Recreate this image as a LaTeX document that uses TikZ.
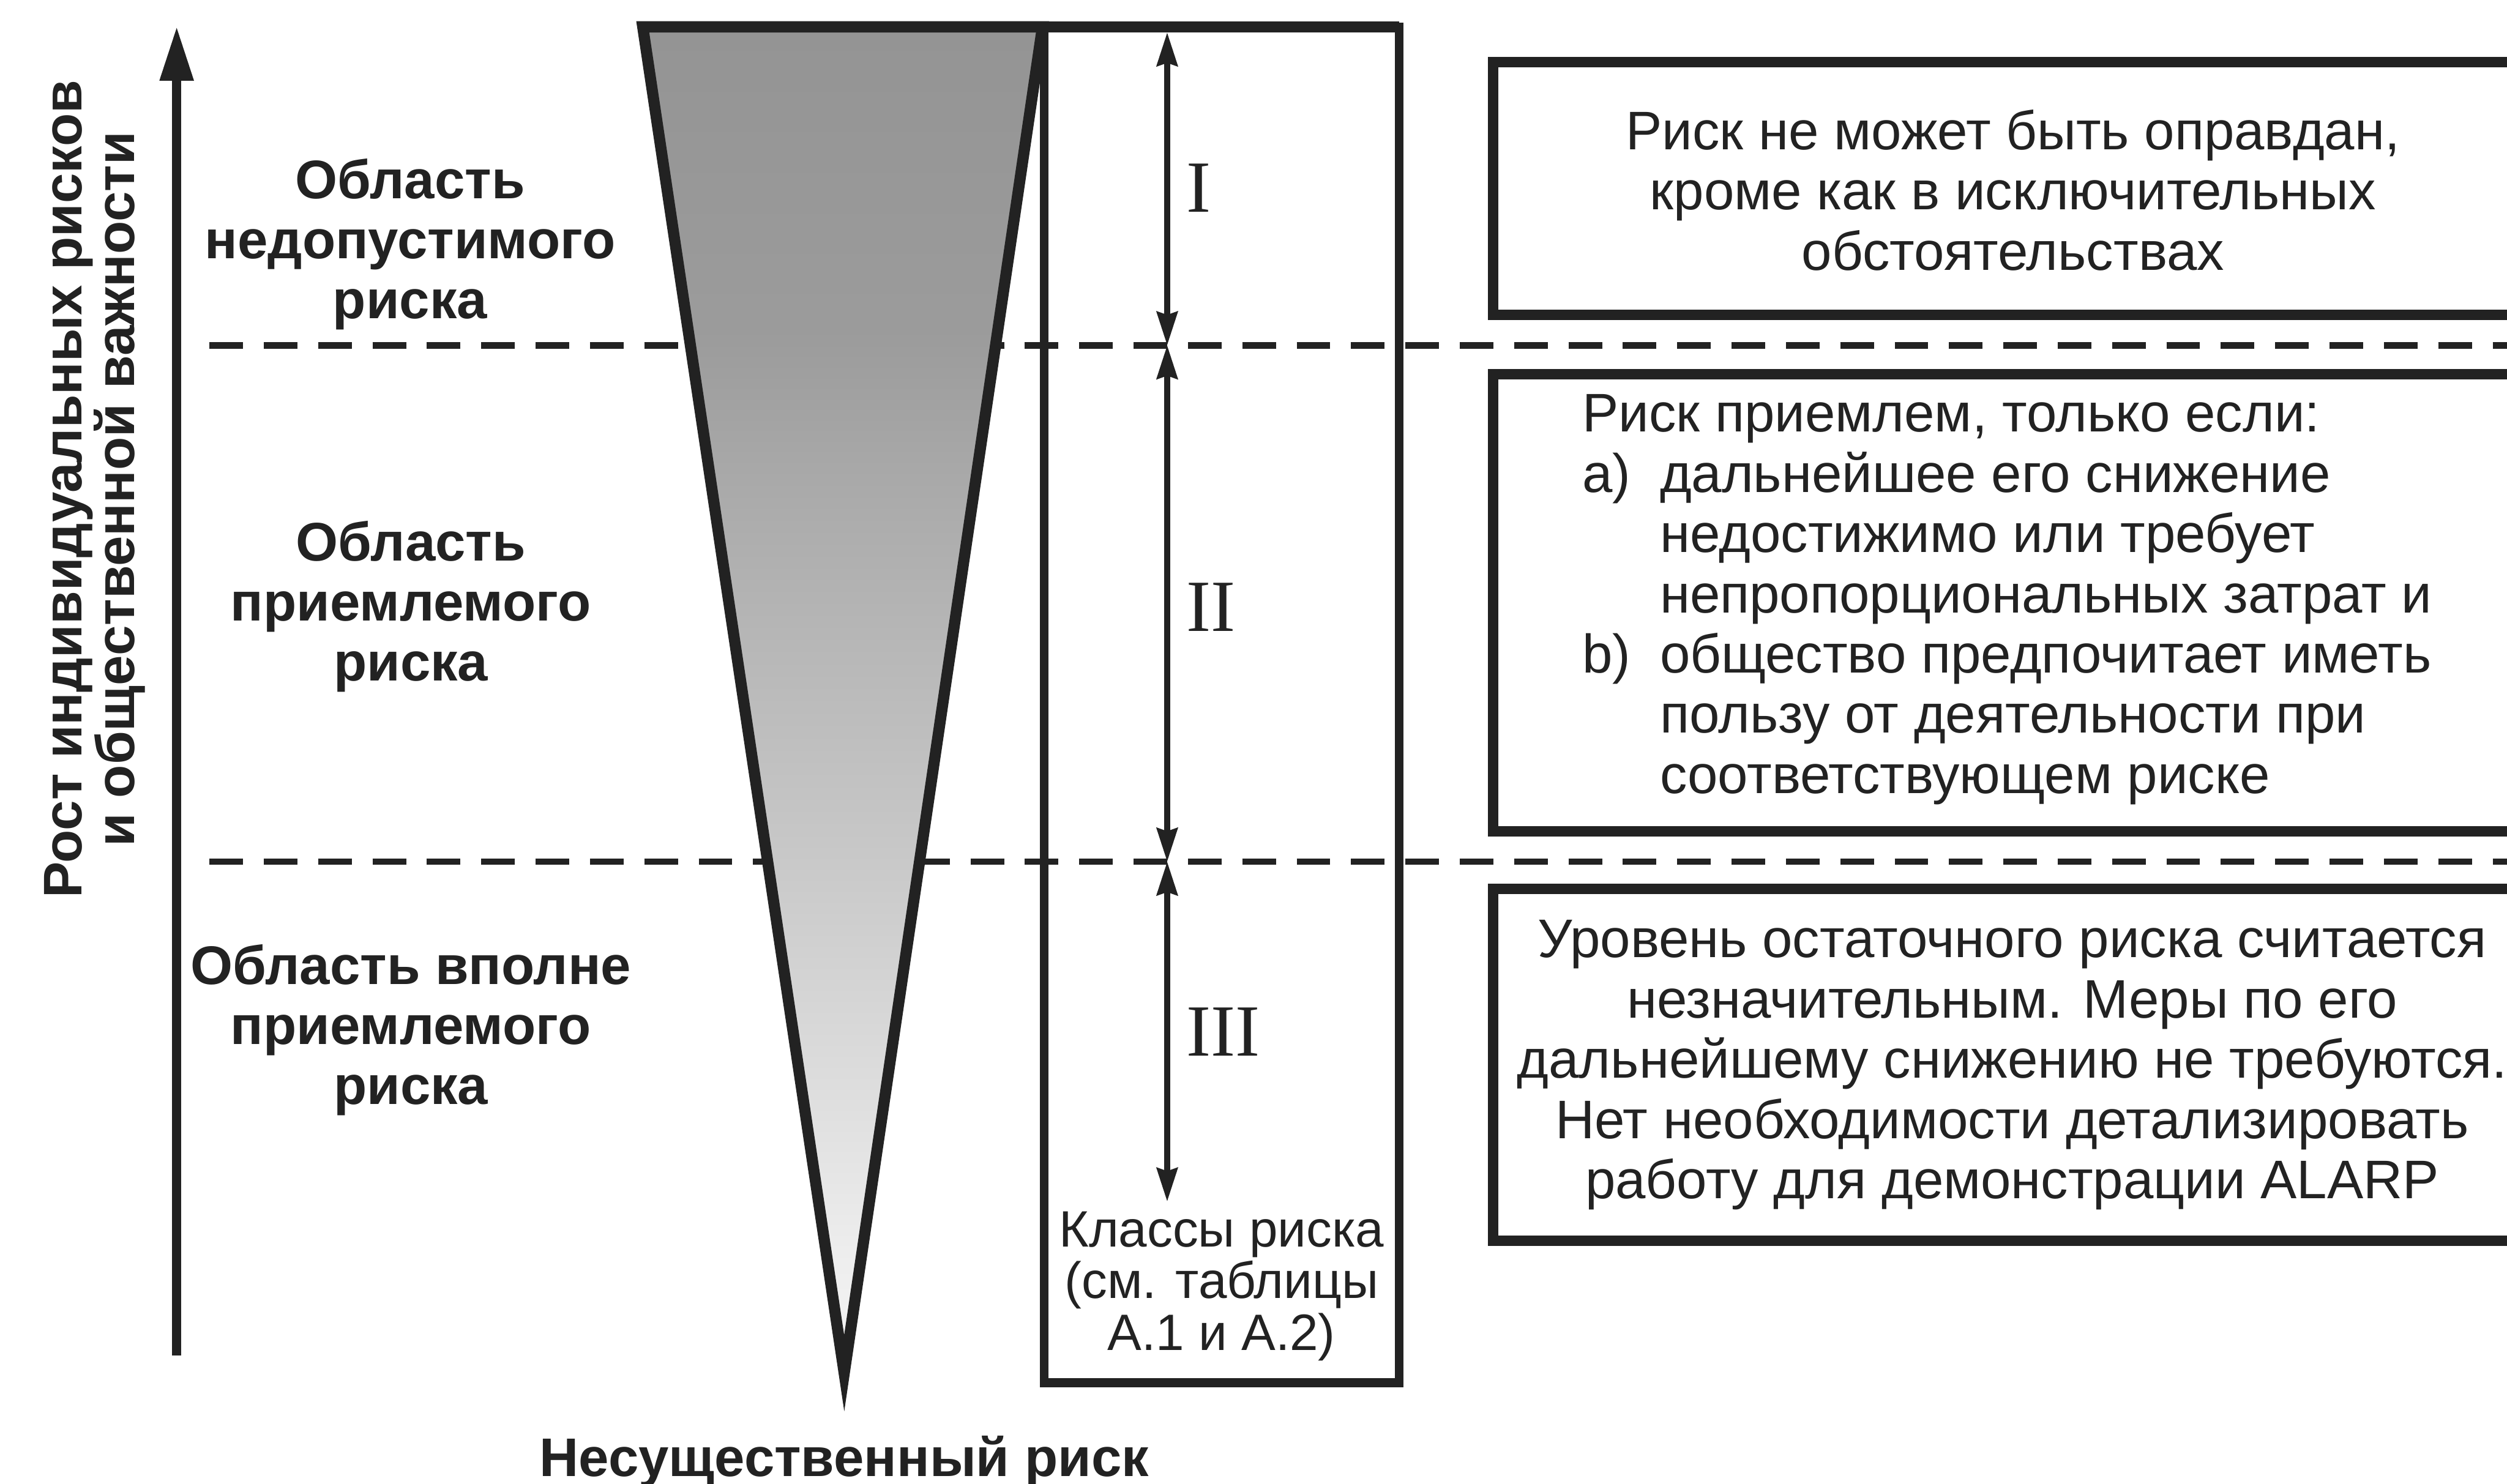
\documentclass[tikz,border=0pt]{standalone}
\usepackage{fontspec}
\setmainfont{Liberation Sans}
\newfontfamily\romanfont{Liberation Serif}
\usetikzlibrary{arrows.meta}
\definecolor{ink}{HTML}{222222}
% grey wedge: dark at the top, fading towards the tip
\pgfdeclareverticalshading{wedgeshade}{100bp}{%
  color(0bp)=(black!4); color(25bp)=(black!4); color(29.5bp)=(black!7);
  color(35.4bp)=(black!13); color(44.75bp)=(black!22); color(52.9bp)=(black!29);
  color(58.5bp)=(black!34); color(63.5bp)=(black!39); color(75bp)=(black!42);
  color(100bp)=(black!42)}
\newcommand\topstrut[1]{\rule{0pt}{#1}}
\newcommand\itm[1]{\makebox[48.5pt][l]{#1}}
\begin{document}
\begin{tikzpicture}[x=1pt,y=-1pt,line join=miter,miter limit=10,
  every node/.style={text=ink,inner sep=0pt},
  regionlabel/.style={font=\fontsize{34}{37.5}\selectfont\bfseries,align=center,anchor=north},
  boxtext/.style={font=\fontsize{34}{37.7}\selectfont,align=center,anchor=north},
  classtext/.style={font=\fontsize{32}{32.3}\selectfont,align=center,anchor=north},
  numeral/.style={font=\romanfont\fontsize{46}{46}\selectfont,anchor=base west},
  riskbox/.style={draw=ink,line width=6.5pt},
  zoneline/.style={draw=ink,line width=4.2pt,dash pattern=on 21pt off 13pt},
  dimarrow/.style={draw=ink,line width=3.5pt,
    {Stealth[length=21pt,width=13pt,inset=2pt]}-{Stealth[length=21pt,width=13pt,inset=2pt]}},
  axisarrow/.style={draw=ink,line width=5.5pt,-{Triangle[length=34pt,width=20pt]}}]
\useasboundingbox (0,0) rectangle (1568,928);
\clip (0,0) rectangle (1568,928);

% zone boundaries
\coordinate (z1a) at (131,216);   \coordinate (z1b) at (1600,216);
\coordinate (z2a) at (131,539);   \coordinate (z2b) at (1600,539);
\draw[zoneline] (z1a) -- (z1b);
\draw[zoneline] (z2a) -- (z2b);

% risk wedge
\path[shading=wedgeshade] (402,16.8) -- (652,16.8) -- (528,859) -- cycle;
\draw[ink,line width=7pt] (402,16.8) -- (652,16.8) -- (528,859) -- cycle;

% risk class column
\draw[ink,line width=5.5pt] (653,16.8) rectangle (875,865);
\draw[ink,line width=7pt,line cap=square] (402,16.8) -- (875,16.8);

\coordinate (c0) at (730,20.3);
\coordinate (c1) at (730,216);
\coordinate (c2) at (730,539);
\coordinate (c3) at (730,751.6);
\draw[dimarrow] (c0) -- (c1);
\draw[dimarrow] (c1) -- (c2);
\draw[dimarrow] (c2) -- (c3);

\node[numeral] (n1) at (742,132.5) {I};
\node[numeral] (n2) at (742,395) {II};
\node[numeral] (n3) at (742,660.5) {III};
\node[classtext] (cls) at (764,752.7) {\topstrut{27pt}Классы риска\\(см. таблицы\\А.1 и А.2)};

% description boxes
\draw[riskbox] (934,39) rectangle (1620,197);
\draw[riskbox] (934,234) rectangle (1620,520);
\draw[riskbox] (934,556) rectangle (1620,776);

\node[boxtext] (ta) at (1259,65.4) {\topstrut{28pt}Риск не может быть оправдан,\\кроме как в исключительных\\обстоятельствах};
\node[boxtext,align=left,anchor=north west] (tb) at (989.5,241.9) {\topstrut{28pt}Риск приемлем, только если:\\
  \itm{a)}дальнейшее его снижение\\
  \itm{}недостижимо или требует\\
  \itm{}непропорциональных затрат и\\
  \itm{b)}общество предпочитает иметь\\
  \itm{}пользу от деятельности при\\
  \itm{}соответствующем риске};
\node[boxtext] (tc) at (1258.5,570.8) {\topstrut{28pt}Уровень остаточного риска считается\\незначительным. Меры по его\\дальнейшему снижению не требуются.\\Нет необходимости детализировать\\работу для демонстрации ALARP};

% region names
\node[regionlabel] (r1) at (256.5,96.2) {\topstrut{28pt}Область\\недопустимого\\риска};
\node[regionlabel] (r2) at (257,322.5) {\topstrut{28pt}Область\\приемлемого\\риска};
\node[regionlabel] (r3) at (257,587.6) {\topstrut{28pt}Область вполне\\приемлемого\\риска};

% vertical axis
\coordinate (ax0) at (110.5,848);
\coordinate (ax1) at (110.5,16.5);
\draw[axisarrow] (ax0) -- (ax1);
\node[regionlabel,font=\fontsize{34}{33}\selectfont\bfseries,rotate=90] (ylab) at (23,306)
  {\topstrut{28pt}Рост индивидуальных рисков\\и общественной важности};

\node[regionlabel,anchor=base] (bot) at (528,923.5) {Несущественный риск};
\end{tikzpicture}
\end{document}
